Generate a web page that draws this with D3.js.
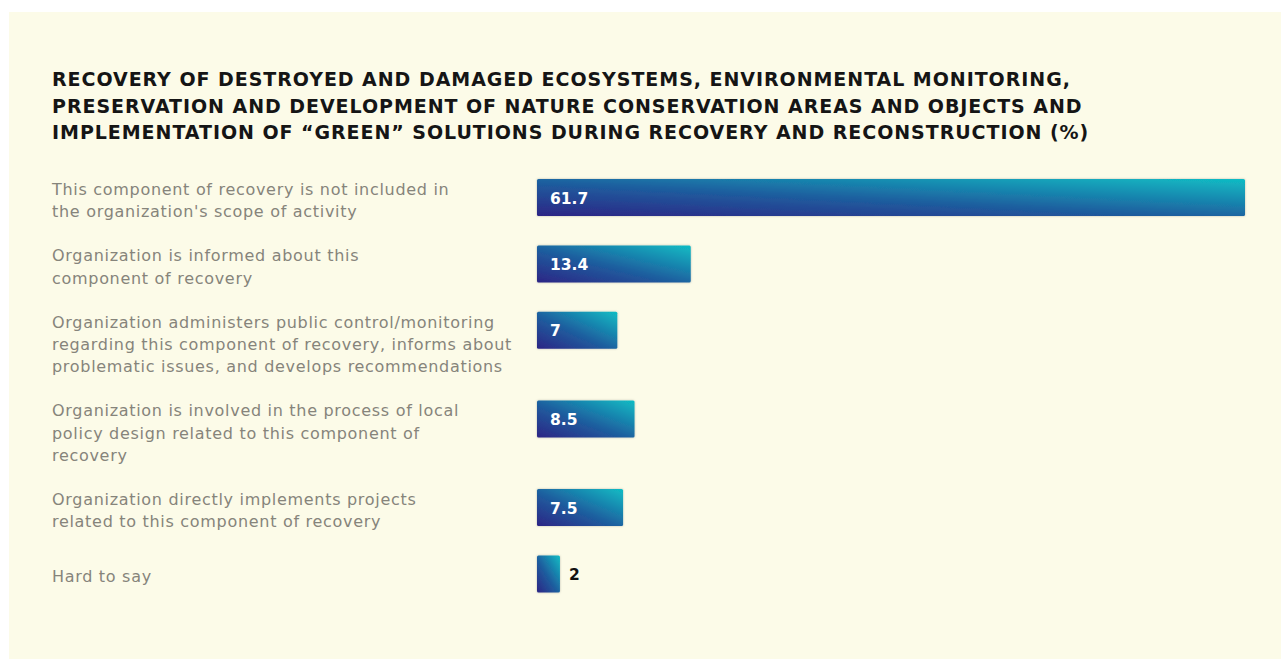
<!DOCTYPE html>
<html>
<head>
<meta charset="utf-8">
<script src="https://cdn.jsdelivr.net/npm/d3@7"></script>
<style>
  html, body { margin: 0; padding: 0; background: #ffffff; }
  svg { display: block; }
</style>
</head>
<body>
<svg id="chart" width="1281" height="660"></svg>
<script>
// Survey answers: share of organizations (%) per level of involvement
const titleLines = [
  "RECOVERY OF DESTROYED AND DAMAGED ECOSYSTEMS, ENVIRONMENTAL MONITORING,",
  "PRESERVATION AND DEVELOPMENT OF NATURE CONSERVATION AREAS AND OBJECTS AND",
  "IMPLEMENTATION OF \u201CGREEN\u201D SOLUTIONS DURING RECOVERY AND RECONSTRUCTION (%)"
];
const categories = [
  ["This component of recovery is not included in", "the organization's scope of activity"],
  ["Organization is informed about this", "component of recovery"],
  ["Organization administers public control/monitoring", "regarding this component of recovery, informs about", "problematic issues, and develops recommendations"],
  ["Organization is involved in the process of local", "policy design related to this component of", "recovery"],
  ["Organization directly implements projects", "related to this component of recovery"],
  ["Hard to say"]
];
const values = [61.7, 13.4, 7, 8.5, 7.5, 2];
const valueLabels = ["61.7", "13.4", "7", "8.5", "7.5", "2"];

const svg = d3.select("#chart");
const W = 1281, H = 660;

// cream panel
svg.append("rect")
  .attr("x", 9).attr("y", 12).attr("width", W - 9).attr("height", 647)
  .attr("fill", "#fcfbe8");

// bar gradient: dark indigo bottom-left to teal top-right
const defs = svg.append("defs");
const grad = defs.append("linearGradient")
  .attr("id", "barGrad")
  .attr("x1", 0).attr("y1", 1).attr("x2", 1).attr("y2", 0);
grad.append("stop").attr("offset", "0%").attr("stop-color", "#2d2585");
grad.append("stop").attr("offset", "45%").attr("stop-color", "#1e5d9e");
grad.append("stop").attr("offset", "100%").attr("stop-color", "#10bcc4");

const shadow = defs.append("filter").attr("id", "barShadow")
  .attr("x", "-5%").attr("y", "-20%").attr("width", "110%").attr("height", "140%");
shadow.append("feDropShadow")
  .attr("dx", 0).attr("dy", 0).attr("stdDeviation", 1.2)
  .attr("flood-color", "#000").attr("flood-opacity", 0.25);

// title
const title = svg.append("g").attr("class", "title");
title.selectAll("text")
  .data(titleLines)
  .join("text")
  .attr("x", 52)
  .attr("y", (d, i) => 86 + i * 26.5)
  .attr("font-family", "'DejaVu Sans', sans-serif")
  .attr("font-weight", "bold")
  .attr("font-size", 19)
  .attr("letter-spacing", 0.95)
  .attr("fill", "#151515")
  .text(d => d);

// vertical layout: each row is as tall as its label block
const lineH = 22.2, rowGap = 22;
const rowTops = [];
let yCursor = 179;
categories.forEach(lines => {
  rowTops.push(yCursor);
  yCursor += lines.length * lineH + rowGap;
});

const barH = 37;
const x = d3.scaleLinear().domain([0, 61.7]).range([537, 1245]);

const rows = svg.append("g").selectAll("g.row")
  .data(values.map((v, i) => ({ v, label: valueLabels[i], lines: categories[i], top: rowTops[i] })))
  .join("g")
  .attr("class", "row");

// category labels
rows.append("text")
  .attr("x", 52)
  .attr("font-family", "'DejaVu Sans', sans-serif")
  .attr("font-size", 16)
  .attr("letter-spacing", 0.7)
  .attr("fill", "#86847b")
  .each(function (d) {
    const t = d3.select(this);
    const firstBase = d.lines.length === 1 ? d.top + barH / 2 + 8 : d.top + 16;
    d.lines.forEach((ln, j) => {
      t.append("tspan").attr("x", 52).attr("y", firstBase + j * lineH).text(ln);
    });
  });

// bars
rows.append("rect")
  .attr("x", x(0))
  .attr("y", d => d.top)
  .attr("width", d => x(d.v) - x(0))
  .attr("height", barH)
  .attr("rx", 1.5)
  .attr("fill", "url(#barGrad)")
  .attr("filter", "url(#barShadow)");

// value labels: inside the bar when wide enough, else just right of it
rows.append("text")
  .attr("x", d => (x(d.v) - x(0) > 40 ? x(0) + 13 : x(d.v) + 9))
  .attr("y", d => d.top + barH / 2 + 6)
  .attr("font-family", "'DejaVu Sans', sans-serif")
  .attr("font-weight", "bold")
  .attr("font-size", 15.5)
  .attr("fill", d => (x(d.v) - x(0) > 40 ? "#ffffff" : "#111111"))
  .text(d => d.label);
</script>
</body>
</html>
